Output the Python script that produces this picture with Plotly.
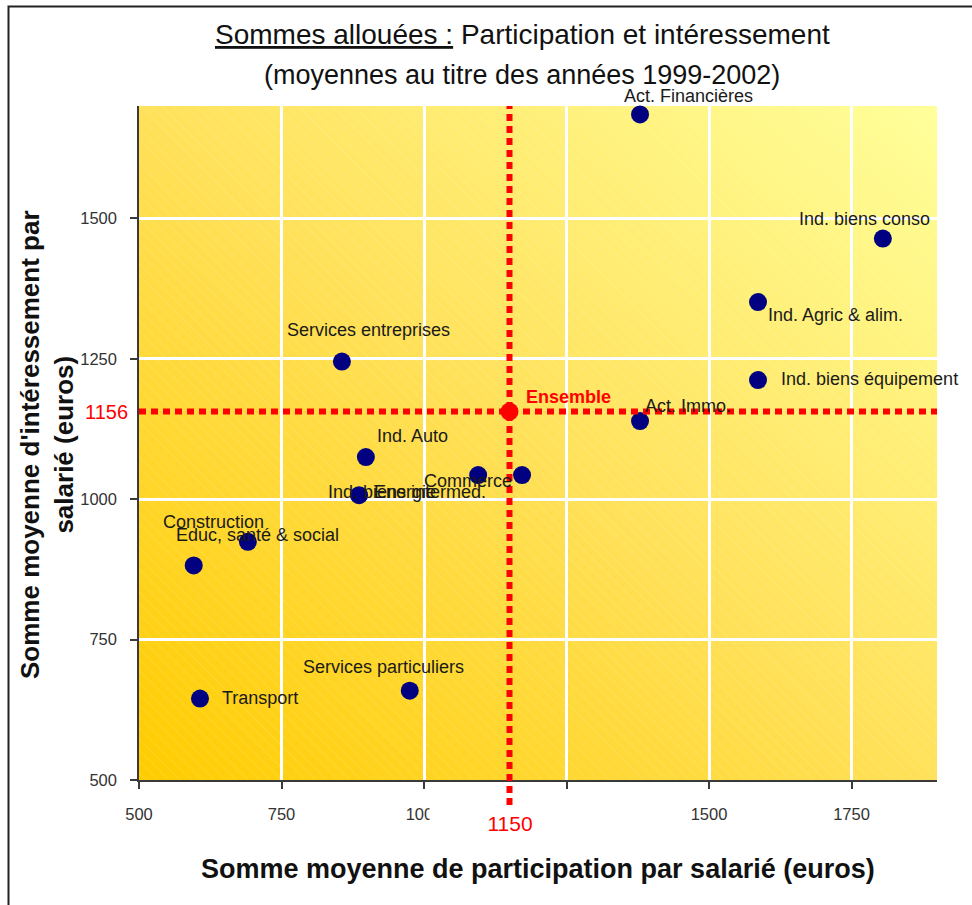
import base64
import plotly.graph_objects as go

# Sector averages 1999-2002 (euros per employee)
sectors = ["Act. Financières", "Ind. biens conso", "Ind. Agric & alim.",
           "Ind. biens équipement", "Act. Immo.", "Services entreprises",
           "Ind. Auto", "Ind. biens intermed.", "Energie", "Commerce",
           "Construction", "Educ, santé & social", "Services particuliers",
           "Transport"]
participation = [1379, 1805, 1586, 1586, 1379, 856, 898, 886, 1095, 1172,
                 596, 691, 975, 607]
interessement = [1685, 1464, 1351, 1212, 1139, 1245, 1075, 1007, 1043, 1043,
                 882, 924, 659, 645]

# Overall average
ensemble_label = "Ensemble"
ensemble_participation = 1150
ensemble_interessement = 1156

x_ticks = [500, 750, 1000, 1250, 1500, 1750]
y_ticks = [500, 750, 1000, 1250, 1500]

# label placement (screen pixel offsets from each marker: right, down)
label_offsets = {
    "Act. Financières": (48, -18),
    "Ind. biens conso": (-18, -20),
    "Ind. Agric & alim.": (77, 13),
    "Ind. biens équipement": (111, -1),
    "Act. Immo.": (48, -15),
    "Services entreprises": (27, -32),
    "Ind. Auto": (47, -21),
    "Ind. biens intermed.": (48, -3),
    "Energie": (-73, 17),
    "Commerce": (-54, 6),
    "Construction": (20, -43),
    "Educ, santé & social": (10, -7),
    "Services particuliers": (-26, -24),
    "Transport": (60, -1),
}

W, H = 972, 905
ML, MR, MT, MB = 139, 35, 106, 125
PW, PH = W - ML - MR, H - MT - MB


def px_x(px):
    return (px - ML) / PW


def px_y(py):
    return (H - MB - py) / PH


FONT = "Liberation Sans, Arial, sans-serif"
RED = "#FF0000"

# gradient backdrop with faint diagonal hatching
svg = (
    '<svg xmlns="http://www.w3.org/2000/svg" width="%d" height="%d" '
    'viewBox="0 0 %d %d" preserveAspectRatio="none">'
    '<defs><linearGradient id="g" x1="0" y1="1" x2="1" y2="0">'
    '<stop offset="0" stop-color="#FFCC00"/>'
    '<stop offset="0.5" stop-color="#FFE15A"/>'
    '<stop offset="1" stop-color="#FFFF99"/></linearGradient>'
    '<pattern id="h" width="8" height="8" patternUnits="userSpaceOnUse" '
    'patternTransform="rotate(-45)"><line x1="0" y1="0" x2="0" y2="8" '
    'stroke="#ffffff" stroke-opacity="0.22" stroke-width="1"/></pattern></defs>'
    '<rect width="100%%" height="100%%" fill="url(#g)"/>'
    '<rect width="100%%" height="100%%" fill="url(#h)"/></svg>'
) % (PW, PH, PW, PH)
bg_uri = "data:image/svg+xml;base64," + base64.b64encode(svg.encode()).decode()

fig = go.Figure()

fig.add_trace(go.Scatter(
    x=participation, y=interessement, mode="markers",
    marker=dict(size=18, color="#000080", line=dict(width=0)),
    cliponaxis=False, hoverinfo="text", text=sectors, showlegend=False,
))
fig.add_trace(go.Scatter(
    x=[ensemble_participation], y=[ensemble_interessement], mode="markers",
    marker=dict(size=18, color=RED, line=dict(width=0)),
    cliponaxis=False, hoverinfo="text", text=[ensemble_label], showlegend=False,
))

annotations = []
for name, xv, yv in zip(sectors, participation, interessement):
    dx, dy = label_offsets[name]
    annotations.append(dict(
        x=xv, y=yv, xref="x", yref="y", text=name, showarrow=False,
        xshift=dx, yshift=-dy, font=dict(family=FONT, size=18, color="#1a1a1a"),
    ))
annotations.append(dict(
    x=ensemble_participation, y=ensemble_interessement, xref="x", yref="y",
    text="<b>%s</b>" % ensemble_label, showarrow=False, xshift=59, yshift=15,
    font=dict(family=FONT, size=18, color=RED),
))

# reference values on the axes
annotations.append(dict(
    x=ensemble_participation, y=px_y(823), xref="x", yref="paper",
    text=str(ensemble_participation), showarrow=False, bgcolor="white",
    width=160, height=34, borderpad=0, xanchor="center", yanchor="middle",
    font=dict(family=FONT, size=21, color=RED),
))
annotations.append(dict(
    x=px_x(106), y=ensemble_interessement, xref="paper", yref="y",
    text=str(ensemble_interessement), showarrow=False, bgcolor="white",
    xanchor="center", yanchor="middle", borderpad=0,
    font=dict(family=FONT, size=20, color=RED),
))

# titles
annotations.append(dict(
    x=px_x(522), y=px_y(34), xref="paper", yref="paper", showarrow=False,
    text="<u>Sommes allouées :</u> Participation et intéressement",
    xanchor="center", yanchor="middle",
    font=dict(family=FONT, size=28, color="#111111"),
))
annotations.append(dict(
    x=px_x(522), y=px_y(75), xref="paper", yref="paper", showarrow=False,
    text="(moyennes au titre des années 1999-2002)",
    xanchor="center", yanchor="middle",
    font=dict(family=FONT, size=27, color="#111111"),
))
annotations.append(dict(
    x=px_x(538), y=px_y(869), xref="paper", yref="paper", showarrow=False,
    text="<b>Somme moyenne de participation par salarié (euros)</b>",
    xanchor="center", yanchor="middle",
    font=dict(family=FONT, size=27, color="#111111"),
))
annotations.append(dict(
    x=px_x(47), y=px_y(445), xref="paper", yref="paper", showarrow=False,
    text="<b>Somme moyenne d'intéressement par<br>salarié (euros)</b>",
    textangle=-90, xanchor="center", yanchor="middle",
    font=dict(family=FONT, size=26, color="#111111"),
))

shapes = [
    # frame around the whole chart
    dict(type="rect", xref="paper", yref="paper",
         x0=px_x(8.5), y0=px_y(1000), x1=px_x(1100), y1=px_y(6.5),
         line=dict(color="#222222", width=2), fillcolor="rgba(0,0,0,0)"),
    # average lines
    dict(type="line", xref="x", yref="paper",
         x0=ensemble_participation, x1=ensemble_participation,
         y0=px_y(805), y1=1, line=dict(color=RED, width=6, dash="7px,5px")),
    dict(type="line", xref="paper", yref="y", x0=0, x1=1,
         y0=ensemble_interessement, y1=ensemble_interessement,
         line=dict(color=RED, width=6, dash="7px,5px")),
]

axis_common = dict(
    showgrid=True, gridcolor="white", gridwidth=3, zeroline=False,
    showline=True, linecolor="#3a3a3a", linewidth=1.5,
    ticks="outside", ticklen=7, tickcolor="#3a3a3a", tickwidth=1.5,
    tickfont=dict(family=FONT, size=16.5, color="#333333"),
)

fig.update_layout(
    width=W, height=H, autosize=False,
    margin=dict(l=ML, r=MR, t=MT, b=MB),
    paper_bgcolor="white", plot_bgcolor="rgba(0,0,0,0)",
    xaxis=dict(range=[500, 1900], tickvals=x_ticks, ticklabelstandoff=11,
               **axis_common),
    yaxis=dict(range=[500, 1700], tickvals=y_ticks, ticklabelstandoff=10,
               **axis_common),
    images=[dict(source=bg_uri, xref="paper", yref="paper", x=0, y=1,
                 sizex=1, sizey=1, sizing="stretch", layer="below")],
    annotations=annotations,
    shapes=shapes,
)

fig.write_html("out.html")
